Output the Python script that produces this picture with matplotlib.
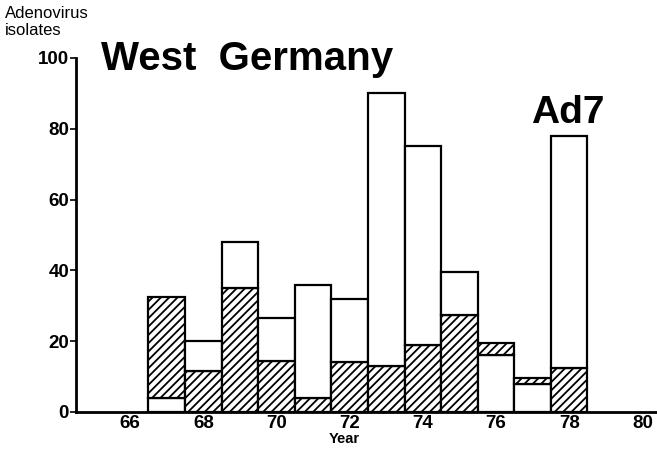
import matplotlib
matplotlib.use("Agg")
import matplotlib.pyplot as plt

years = [67, 68, 69, 70, 71, 72, 73, 74, 75, 76, 77, 78]
lower = [4, 11.5, 35, 14.5, 4, 14, 13, 19, 27.5, 16, 8, 12.5]
total = [32.5, 20, 48, 26.5, 36, 32, 90, 75, 39.5, 19.5, 9.5, 78]
lower_hatched = [False, True, True, True, True, True, True, True, True, False, False, True]
xticks = [66, 68, 70, 72, 74, 76, 78, 80]
yticks = [0, 20, 40, 60, 80, 100]

plt.rcParams['font.family'] = ['Liberation Sans', 'DejaVu Sans']
plt.rcParams['hatch.linewidth'] = 1.3

fig = plt.figure(figsize=(6.57, 4.51), dpi=100)
ax = fig.add_axes([0.1157, 0.0865, 0.8843, 0.7849])

upper = [t - l for t, l in zip(total, lower)]
for x, lo, up, lh in zip(years, lower, upper, lower_hatched):
    ax.bar(x, lo, width=1.0, bottom=0, color='white', edgecolor='black',
           linewidth=1.6, hatch='////' if lh else None)
    ax.bar(x, up, width=1.0, bottom=lo, color='white', edgecolor='black',
           linewidth=1.6, hatch=None if lh else '////')

ax.set_xlim(64.52, 80.4)
ax.set_ylim(0, 100)
ax.set_xticks(xticks)
ax.set_yticks(yticks)
ax.set_xticklabels([str(v) for v in xticks], fontsize=13.5, fontweight='bold')
ax.set_yticklabels([str(v) for v in yticks], fontsize=13.5, fontweight='bold')
ax.tick_params(axis='x', length=0, pad=2)
ax.tick_params(axis='y', length=4, width=1.2, pad=1)
for s in ['top', 'right']:
    ax.spines[s].set_visible(False)
for s in ['left', 'bottom']:
    ax.spines[s].set_linewidth(2)

fig.text(344 / 657, 1 - 443 / 451, 'Year', ha='center', va='baseline', fontsize=10.5, fontweight='bold')
fig.text(5 / 657, 1 - 18 / 451, 'Adenovirus', ha='left', va='baseline', fontsize=12)
fig.text(5 / 657, 1 - 35 / 451, 'isolates', ha='left', va='baseline', fontsize=12)
fig.text(101 / 657, 1 - 70 / 451, 'West  Germany', ha='left', va='baseline', fontsize=29,
         fontweight='bold')
fig.text(568 / 657, 1 - 123 / 451, 'Ad7', ha='center', va='baseline', fontsize=28,
         fontweight='bold')

fig.savefig('out.png', dpi=100)
